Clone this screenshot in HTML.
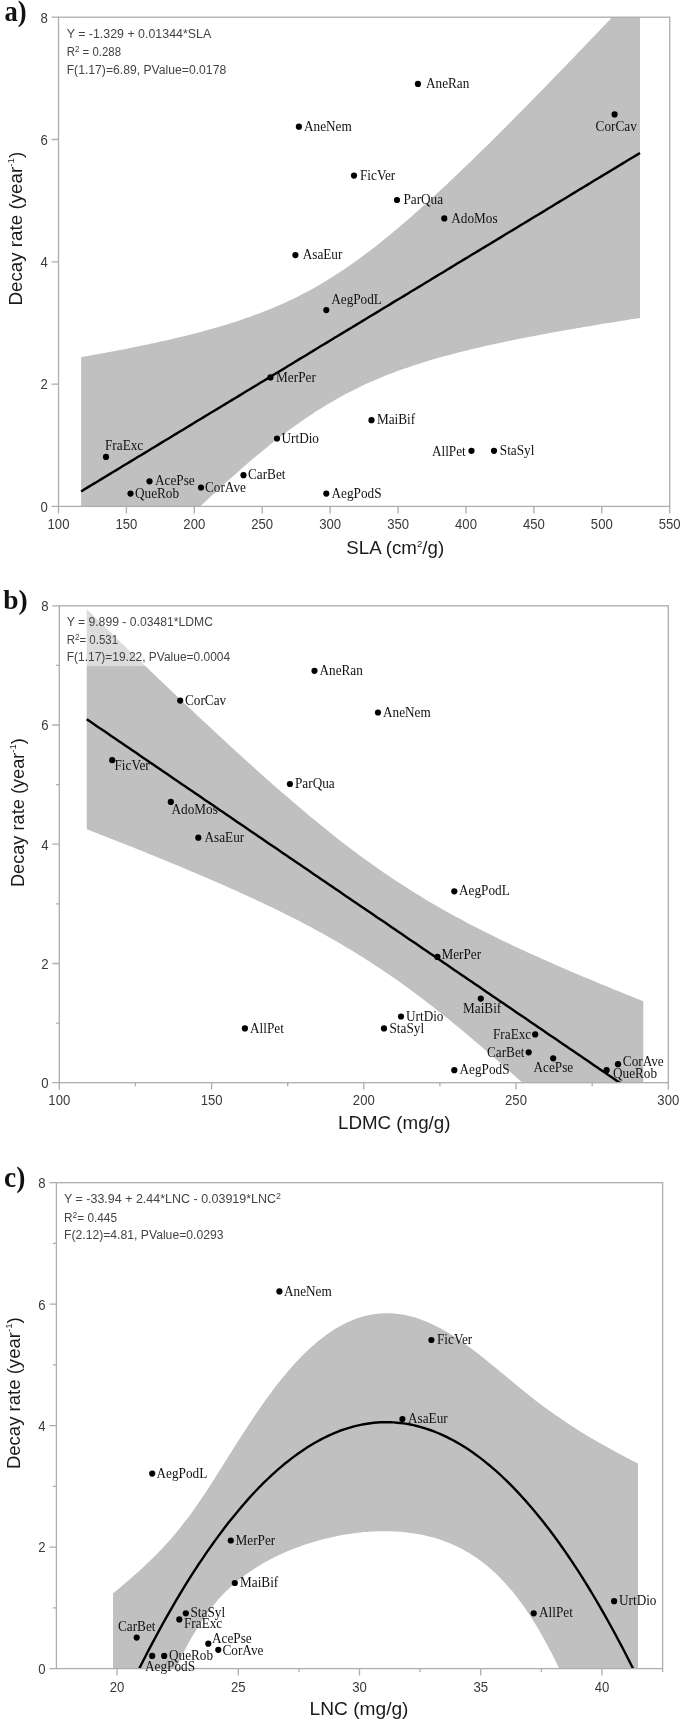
<!DOCTYPE html>
<html><head><meta charset="utf-8"><title>Decay rate vs leaf traits</title>
<style>html,body{margin:0;padding:0;background:#fff}svg{display:block;will-change:transform}text{white-space:pre}</style>
</head><body>
<svg width="685" height="1723" viewBox="0 0 685 1723">
<rect width="685" height="1723" fill="#fff"/>
<clipPath id="clip1"><rect x="58.5" y="17.2" width="611.20" height="489.20"/></clipPath>
<g clip-path="url(#clip1)">
<polygon points="81.1,357.1 84.6,356.5 88.1,355.9 91.6,355.2 95.2,354.6 98.7,354.0 102.2,353.3 105.7,352.7 109.2,352.0 112.7,351.4 116.3,350.7 119.8,350.0 123.3,349.4 126.8,348.7 130.3,348.0 133.8,347.3 137.3,346.6 140.9,345.8 144.4,345.1 147.9,344.4 151.4,343.6 154.9,342.9 158.4,342.1 161.9,341.3 165.5,340.6 169.0,339.8 172.5,339.0 176.0,338.1 179.5,337.3 183.0,336.5 186.6,335.6 190.1,334.7 193.6,333.8 197.1,332.9 200.6,332.0 204.1,331.1 207.6,330.1 211.2,329.1 214.7,328.1 218.2,327.1 221.7,326.1 225.2,325.0 228.7,323.9 232.2,322.8 235.8,321.7 239.3,320.5 242.8,319.3 246.3,318.1 249.8,316.9 253.3,315.6 256.9,314.3 260.4,313.0 263.9,311.6 267.4,310.2 270.9,308.8 274.4,307.3 277.9,305.8 281.5,304.3 285.0,302.7 288.5,301.0 292.0,299.4 295.5,297.7 299.0,295.9 302.6,294.1 306.1,292.3 309.6,290.4 313.1,288.4 316.6,286.4 320.1,284.4 323.6,282.3 327.2,280.2 330.7,278.0 334.2,275.8 337.7,273.6 341.2,271.3 344.7,268.9 348.2,266.5 351.8,264.0 355.3,261.6 358.8,259.0 362.3,256.4 365.8,253.8 369.3,251.2 372.9,248.5 376.4,245.7 379.9,242.9 383.4,240.1 386.9,237.3 390.4,234.4 393.9,231.5 397.5,228.5 401.0,225.6 404.5,222.5 408.0,219.5 411.5,216.4 415.0,213.3 418.5,210.2 422.1,207.1 425.6,203.9 429.1,200.7 432.6,197.5 436.1,194.3 439.6,191.0 443.2,187.7 446.7,184.4 450.2,181.1 453.7,177.8 457.2,174.5 460.7,171.1 464.2,167.7 467.8,164.3 471.3,160.9 474.8,157.5 478.3,154.1 481.8,150.6 485.3,147.2 488.9,143.7 492.4,140.2 495.9,136.7 499.4,133.2 502.9,129.7 506.4,126.2 509.9,122.7 513.5,119.1 517.0,115.6 520.5,112.0 524.0,108.5 527.5,104.9 531.0,101.3 534.5,97.7 538.1,94.1 541.6,90.6 545.1,86.9 548.6,83.3 552.1,79.7 555.6,76.1 559.2,72.5 562.7,68.8 566.2,65.2 569.7,61.6 573.2,57.9 576.7,54.3 580.2,50.6 583.8,47.0 587.3,43.3 590.8,39.6 594.3,36.0 597.8,32.3 601.3,28.6 604.8,24.9 608.4,21.2 611.9,17.6 615.4,13.9 618.9,10.2 622.4,6.5 625.9,2.8 629.5,-0.9 633.0,-4.6 636.5,-8.3 640.0,-12.1 640.0,318.0 636.5,318.5 633.0,319.1 629.5,319.6 625.9,320.2 622.4,320.7 618.9,321.3 615.4,321.9 611.9,322.4 608.4,323.0 604.8,323.6 601.3,324.1 597.8,324.7 594.3,325.3 590.8,325.9 587.3,326.5 583.8,327.1 580.2,327.7 576.7,328.3 573.2,328.9 569.7,329.5 566.2,330.1 562.7,330.7 559.2,331.3 555.6,332.0 552.1,332.6 548.6,333.3 545.1,333.9 541.6,334.6 538.1,335.2 534.5,335.9 531.0,336.6 527.5,337.2 524.0,337.9 520.5,338.6 517.0,339.3 513.5,340.0 509.9,340.8 506.4,341.5 502.9,342.2 499.4,343.0 495.9,343.7 492.4,344.5 488.9,345.3 485.3,346.1 481.8,346.9 478.3,347.7 474.8,348.5 471.3,349.3 467.8,350.2 464.2,351.0 460.7,351.9 457.2,352.8 453.7,353.7 450.2,354.7 446.7,355.6 443.2,356.6 439.6,357.5 436.1,358.5 432.6,359.6 429.1,360.6 425.6,361.7 422.1,362.8 418.5,363.9 415.0,365.0 411.5,366.2 408.0,367.4 404.5,368.6 401.0,369.8 397.5,371.1 393.9,372.4 390.4,373.8 386.9,375.1 383.4,376.5 379.9,378.0 376.4,379.5 372.9,381.0 369.3,382.5 365.8,384.1 362.3,385.8 358.8,387.4 355.3,389.2 351.8,390.9 348.2,392.7 344.7,394.6 341.2,396.5 337.7,398.4 334.2,400.4 330.7,402.5 327.2,404.6 323.6,406.7 320.1,408.9 316.6,411.1 313.1,413.4 309.6,415.7 306.1,418.1 302.6,420.5 299.0,422.9 295.5,425.4 292.0,428.0 288.5,430.6 285.0,433.2 281.5,435.9 277.9,438.6 274.4,441.3 270.9,444.1 267.4,446.9 263.9,449.8 260.4,452.7 256.9,455.6 253.3,458.5 249.8,461.5 246.3,464.6 242.8,467.6 239.3,470.7 235.8,473.8 232.2,476.9 228.7,480.0 225.2,483.2 221.7,486.4 218.2,489.6 214.7,492.9 211.2,496.1 207.6,499.4 204.1,502.7 200.6,506.0 197.1,509.4 193.6,512.7 190.1,516.1 186.6,519.5 183.0,522.9 179.5,526.3 176.0,529.7 172.5,533.1 169.0,536.6 165.5,540.0 161.9,543.5 158.4,547.0 154.9,550.5 151.4,554.0 147.9,557.5 144.4,561.0 140.9,564.5 137.3,568.1 133.8,571.6 130.3,575.2 126.8,578.7 123.3,582.3 119.8,585.9 116.3,589.5 112.7,593.1 109.2,596.7 105.7,600.3 102.2,603.9 98.7,607.5 95.2,611.1 91.6,614.7 88.1,618.4 84.6,622.0 81.1,625.7" fill="#c0c0c0"/>
<polyline points="81.1,491.4 84.6,489.2 88.1,487.1 91.6,485.0 95.2,482.9 98.7,480.7 102.2,478.6 105.7,476.5 109.2,474.4 112.7,472.2 116.3,470.1 119.8,468.0 123.3,465.8 126.8,463.7 130.3,461.6 133.8,459.5 137.3,457.3 140.9,455.2 144.4,453.1 147.9,450.9 151.4,448.8 154.9,446.7 158.4,444.6 161.9,442.4 165.5,440.3 169.0,438.2 172.5,436.0 176.0,433.9 179.5,431.8 183.0,429.7 186.6,427.5 190.1,425.4 193.6,423.3 197.1,421.1 200.6,419.0 204.1,416.9 207.6,414.8 211.2,412.6 214.7,410.5 218.2,408.4 221.7,406.2 225.2,404.1 228.7,402.0 232.2,399.9 235.8,397.7 239.3,395.6 242.8,393.5 246.3,391.3 249.8,389.2 253.3,387.1 256.9,385.0 260.4,382.8 263.9,380.7 267.4,378.6 270.9,376.4 274.4,374.3 277.9,372.2 281.5,370.1 285.0,367.9 288.5,365.8 292.0,363.7 295.5,361.5 299.0,359.4 302.6,357.3 306.1,355.2 309.6,353.0 313.1,350.9 316.6,348.8 320.1,346.6 323.6,344.5 327.2,342.4 330.7,340.3 334.2,338.1 337.7,336.0 341.2,333.9 344.7,331.7 348.2,329.6 351.8,327.5 355.3,325.4 358.8,323.2 362.3,321.1 365.8,319.0 369.3,316.8 372.9,314.7 376.4,312.6 379.9,310.5 383.4,308.3 386.9,306.2 390.4,304.1 393.9,301.9 397.5,299.8 401.0,297.7 404.5,295.6 408.0,293.4 411.5,291.3 415.0,289.2 418.5,287.1 422.1,284.9 425.6,282.8 429.1,280.7 432.6,278.5 436.1,276.4 439.6,274.3 443.2,272.2 446.7,270.0 450.2,267.9 453.7,265.8 457.2,263.6 460.7,261.5 464.2,259.4 467.8,257.3 471.3,255.1 474.8,253.0 478.3,250.9 481.8,248.7 485.3,246.6 488.9,244.5 492.4,242.4 495.9,240.2 499.4,238.1 502.9,236.0 506.4,233.8 509.9,231.7 513.5,229.6 517.0,227.5 520.5,225.3 524.0,223.2 527.5,221.1 531.0,218.9 534.5,216.8 538.1,214.7 541.6,212.6 545.1,210.4 548.6,208.3 552.1,206.2 555.6,204.0 559.2,201.9 562.7,199.8 566.2,197.7 569.7,195.5 573.2,193.4 576.7,191.3 580.2,189.1 583.8,187.0 587.3,184.9 590.8,182.8 594.3,180.6 597.8,178.5 601.3,176.4 604.8,174.2 608.4,172.1 611.9,170.0 615.4,167.9 618.9,165.7 622.4,163.6 625.9,161.5 629.5,159.3 633.0,157.2 636.5,155.1 640.0,153.0" fill="none" stroke="#000" stroke-width="2.4"/>
</g>
<rect x="58.5" y="17.2" width="611.20" height="489.20" fill="none" stroke="#adadad" stroke-width="1.3"/>
<path d="M51.5,506.4H58.5M51.5,384.1H58.5M51.5,261.8H58.5M51.5,139.5H58.5M51.5,17.2H58.5M58.5,506.4V513.4M126.4,506.4V513.4M194.3,506.4V513.4M262.2,506.4V513.4M330.1,506.4V513.4M398.1,506.4V513.4M466.0,506.4V513.4M533.9,506.4V513.4M601.8,506.4V513.4M669.7,506.4V513.4" stroke="#adadad" stroke-width="1.3" fill="none"/>
<g font-family='"Liberation Sans", sans-serif' font-size="14.6" fill="#3a3a3a">
<text transform="translate(47.7,511.7) scale(0.9,1)" text-anchor="end">0</text>
<text transform="translate(47.7,389.4) scale(0.9,1)" text-anchor="end">2</text>
<text transform="translate(47.7,267.1) scale(0.9,1)" text-anchor="end">4</text>
<text transform="translate(47.7,144.8) scale(0.9,1)" text-anchor="end">6</text>
<text transform="translate(47.7,22.5) scale(0.9,1)" text-anchor="end">8</text>
<text transform="translate(58.5,529.4) scale(0.9,1)" text-anchor="middle">100</text>
<text transform="translate(126.4,529.4) scale(0.9,1)" text-anchor="middle">150</text>
<text transform="translate(194.3,529.4) scale(0.9,1)" text-anchor="middle">200</text>
<text transform="translate(262.2,529.4) scale(0.9,1)" text-anchor="middle">250</text>
<text transform="translate(330.1,529.4) scale(0.9,1)" text-anchor="middle">300</text>
<text transform="translate(398.1,529.4) scale(0.9,1)" text-anchor="middle">350</text>
<text transform="translate(466.0,529.4) scale(0.9,1)" text-anchor="middle">400</text>
<text transform="translate(533.9,529.4) scale(0.9,1)" text-anchor="middle">450</text>
<text transform="translate(601.8,529.4) scale(0.9,1)" text-anchor="middle">500</text>
<text transform="translate(669.7,529.4) scale(0.9,1)" text-anchor="middle">550</text>
</g>
<g font-family='"Liberation Sans", sans-serif' font-size="12" fill="#444">
<text x="66.7" y="38.2" textLength="144.5" lengthAdjust="spacingAndGlyphs">Y = -1.329 + 0.01344*SLA</text>
<text x="66.7" y="56.3" textLength="54.3" lengthAdjust="spacingAndGlyphs">R<tspan font-size="8.5" dy="-4">2</tspan><tspan dy="4"> = 0.288</tspan></text>
<text x="66.7" y="74.2" textLength="159.5" lengthAdjust="spacingAndGlyphs">F(1.17)=6.89, PValue=0.0178</text>
</g>
<text x="346.3" y="553.9" font-family='"Liberation Sans", sans-serif' font-size="18.3" fill="#1a1a1a" textLength="97.9" lengthAdjust="spacingAndGlyphs">SLA (cm<tspan font-size="9.5" dy="-7">2</tspan><tspan dy="7">/g)</tspan></text>
<text transform="translate(21.6,305.6) rotate(-90)" font-family='"Liberation Sans", sans-serif' font-size="18.3" fill="#1a1a1a" textLength="153.8" lengthAdjust="spacingAndGlyphs">Decay rate (year<tspan font-size="9.5" dy="-8">-1</tspan><tspan dy="8">)</tspan></text>
<text transform="translate(4.5,21.0) scale(0.9,1)" font-family='"Liberation Serif", serif' font-weight="bold" font-size="29.5" fill="#111">a)</text>
<g fill="#000">
<circle cx="417.9" cy="83.9" r="3.1"/>
<circle cx="614.6" cy="114.4" r="3.1"/>
<circle cx="298.9" cy="126.7" r="3.1"/>
<circle cx="354.0" cy="175.6" r="3.1"/>
<circle cx="397.0" cy="200.0" r="3.1"/>
<circle cx="444.3" cy="218.4" r="3.1"/>
<circle cx="295.4" cy="255.1" r="3.1"/>
<circle cx="326.3" cy="310.1" r="3.1"/>
<circle cx="270.5" cy="377.4" r="3.1"/>
<circle cx="106.0" cy="456.9" r="3.1"/>
<circle cx="277.0" cy="438.5" r="3.1"/>
<circle cx="149.5" cy="481.3" r="3.1"/>
<circle cx="130.5" cy="493.6" r="3.1"/>
<circle cx="201.0" cy="487.5" r="3.1"/>
<circle cx="243.5" cy="475.2" r="3.1"/>
<circle cx="326.3" cy="493.6" r="3.1"/>
<circle cx="371.5" cy="420.2" r="3.1"/>
<circle cx="471.5" cy="450.8" r="3.1"/>
<circle cx="494.0" cy="450.8" r="3.1"/>
</g>
<g font-family='"Liberation Serif", serif' font-size="14.8" fill="#111">
<text transform="translate(426.0,88.0) scale(0.895,1)">AneRan</text>
<text transform="translate(595.6,131.4) scale(0.895,1)">CorCav</text>
<text transform="translate(304.0,130.8) scale(0.895,1)">AneNem</text>
<text transform="translate(360.0,179.7) scale(0.895,1)">FicVer</text>
<text transform="translate(403.4,204.1) scale(0.895,1)">ParQua</text>
<text transform="translate(451.3,222.5) scale(0.895,1)">AdoMos</text>
<text transform="translate(302.7,259.2) scale(0.895,1)">AsaEur</text>
<text transform="translate(331.2,303.8) scale(0.895,1)">AegPodL</text>
<text transform="translate(276.1,381.5) scale(0.895,1)">MerPer</text>
<text transform="translate(105.0,450.4) scale(0.895,1)">FraExc</text>
<text transform="translate(281.5,442.6) scale(0.895,1)">UrtDio</text>
<text transform="translate(155.0,485.4) scale(0.895,1)">AcePse</text>
<text transform="translate(135.0,497.7) scale(0.895,1)">QueRob</text>
<text transform="translate(205.0,491.6) scale(0.895,1)">CorAve</text>
<text transform="translate(248.0,479.3) scale(0.895,1)">CarBet</text>
<text transform="translate(331.5,497.7) scale(0.895,1)">AegPodS</text>
<text transform="translate(376.9,424.3) scale(0.895,1)">MaiBif</text>
<text transform="translate(431.9,456.0) scale(0.895,1)">AllPet</text>
<text transform="translate(499.8,454.9) scale(0.895,1)">StaSyl</text>
</g>
<clipPath id="clip2"><rect x="59.3" y="605.8" width="609.00" height="476.90"/></clipPath>
<g clip-path="url(#clip2)">
<polygon points="86.7,609.2 90.2,612.6 93.7,616.0 97.2,619.4 100.7,622.8 104.2,626.2 107.7,629.6 111.2,633.0 114.7,636.4 118.2,639.8 121.7,643.2 125.2,646.6 128.7,650.0 132.2,653.3 135.7,656.7 139.2,660.1 142.7,663.5 146.2,666.8 149.7,670.2 153.2,673.5 156.7,676.9 160.2,680.2 163.7,683.6 167.2,686.9 170.7,690.3 174.2,693.6 177.7,696.9 181.2,700.2 184.7,703.5 188.2,706.8 191.7,710.1 195.2,713.4 198.7,716.7 202.2,720.0 205.7,723.3 209.2,726.6 212.7,729.8 216.2,733.1 219.7,736.3 223.2,739.6 226.7,742.8 230.2,746.0 233.7,749.2 237.2,752.4 240.7,755.6 244.2,758.8 247.7,762.0 251.2,765.1 254.7,768.3 258.2,771.4 261.7,774.6 265.2,777.7 268.7,780.8 272.2,783.9 275.7,786.9 279.2,790.0 282.7,793.0 286.2,796.1 289.7,799.1 293.2,802.1 296.7,805.1 300.2,808.1 303.7,811.0 307.2,813.9 310.7,816.9 314.2,819.8 317.7,822.6 321.2,825.5 324.7,828.3 328.2,831.1 331.7,833.9 335.2,836.7 338.7,839.4 342.2,842.2 345.7,844.9 349.2,847.5 352.7,850.2 356.2,852.8 359.7,855.4 363.2,858.0 366.8,860.5 370.3,863.1 373.8,865.6 377.3,868.0 380.8,870.5 384.3,872.9 387.8,875.3 391.3,877.7 394.8,880.0 398.3,882.3 401.8,884.6 405.3,886.8 408.8,889.1 412.3,891.3 415.8,893.5 419.3,895.6 422.8,897.7 426.3,899.9 429.8,901.9 433.3,904.0 436.8,906.0 440.3,908.0 443.8,910.0 447.3,912.0 450.8,913.9 454.3,915.9 457.8,917.8 461.3,919.6 464.8,921.5 468.3,923.4 471.8,925.2 475.3,927.0 478.8,928.8 482.3,930.6 485.8,932.3 489.3,934.1 492.8,935.8 496.3,937.5 499.8,939.2 503.3,940.9 506.8,942.6 510.3,944.2 513.8,945.9 517.3,947.5 520.8,949.2 524.3,950.8 527.8,952.4 531.3,954.0 534.8,955.6 538.3,957.1 541.8,958.7 545.3,960.3 548.8,961.8 552.3,963.3 555.8,964.9 559.3,966.4 562.8,967.9 566.3,969.4 569.8,970.9 573.3,972.4 576.8,973.9 580.3,975.4 583.8,976.9 587.3,978.3 590.8,979.8 594.3,981.3 597.8,982.7 601.3,984.2 604.8,985.6 608.3,987.0 611.8,988.5 615.3,989.9 618.8,991.3 622.3,992.7 625.8,994.2 629.3,995.6 632.8,997.0 636.3,998.4 639.8,999.8 643.3,1001.2 643.3,1196.5 639.8,1193.1 636.3,1189.7 632.8,1186.3 629.3,1183.0 625.8,1179.6 622.3,1176.2 618.8,1172.9 615.3,1169.5 611.8,1166.2 608.3,1162.8 604.8,1159.5 601.3,1156.2 597.8,1152.8 594.3,1149.5 590.8,1146.2 587.3,1142.9 583.8,1139.6 580.3,1136.3 576.8,1133.0 573.3,1129.7 569.8,1126.4 566.3,1123.2 562.8,1119.9 559.3,1116.6 555.8,1113.4 552.3,1110.1 548.8,1106.9 545.3,1103.7 541.8,1100.5 538.3,1097.2 534.8,1094.0 531.3,1090.9 527.8,1087.7 524.3,1084.5 520.8,1081.3 517.3,1078.2 513.8,1075.1 510.3,1071.9 506.8,1068.8 503.3,1065.7 499.8,1062.6 496.3,1059.6 492.8,1056.5 489.3,1053.5 485.8,1050.4 482.3,1047.4 478.8,1044.4 475.3,1041.4 471.8,1038.5 468.3,1035.5 464.8,1032.6 461.3,1029.7 457.8,1026.8 454.3,1023.9 450.8,1021.1 447.3,1018.2 443.8,1015.4 440.3,1012.6 436.8,1009.9 433.3,1007.1 429.8,1004.4 426.3,1001.7 422.8,999.1 419.3,996.4 415.8,993.8 412.3,991.2 408.8,988.6 405.3,986.1 401.8,983.6 398.3,981.1 394.8,978.6 391.3,976.2 387.8,973.8 384.3,971.4 380.8,969.0 377.3,966.7 373.8,964.4 370.3,962.1 366.8,959.9 363.2,957.6 359.7,955.4 356.2,953.3 352.7,951.1 349.2,949.0 345.7,946.9 342.2,944.8 338.7,942.8 335.2,940.7 331.7,938.7 328.2,936.7 324.7,934.8 321.2,932.8 317.7,930.9 314.2,929.0 310.7,927.1 307.2,925.3 303.7,923.4 300.2,921.6 296.7,919.8 293.2,918.0 289.7,916.3 286.2,914.5 282.7,912.8 279.2,911.0 275.7,909.3 272.2,907.6 268.7,905.9 265.2,904.3 261.7,902.6 258.2,901.0 254.7,899.3 251.2,897.7 247.7,896.1 244.2,894.5 240.7,892.9 237.2,891.3 233.7,889.7 230.2,888.2 226.7,886.6 223.2,885.1 219.7,883.5 216.2,882.0 212.7,880.5 209.2,879.0 205.7,877.5 202.2,876.0 198.7,874.5 195.2,873.0 191.7,871.5 188.2,870.0 184.7,868.6 181.2,867.1 177.7,865.6 174.2,864.2 170.7,862.7 167.2,861.3 163.7,859.9 160.2,858.4 156.7,857.0 153.2,855.6 149.7,854.2 146.2,852.7 142.7,851.3 139.2,849.9 135.7,848.5 132.2,847.1 128.7,845.7 125.2,844.3 121.7,842.9 118.2,841.6 114.7,840.2 111.2,838.8 107.7,837.4 104.2,836.0 100.7,834.7 97.2,833.3 93.7,831.9 90.2,830.6 86.7,829.2" fill="#c0c0c0"/>
<rect x="59.3" y="605.8" width="185" height="60.4" fill="#fff" fill-opacity="0.45"/>
<polyline points="86.7,719.2 90.2,721.6 93.7,724.0 97.2,726.4 100.7,728.7 104.2,731.1 107.7,733.5 111.2,735.9 114.7,738.3 118.2,740.7 121.7,743.1 125.2,745.5 128.7,747.8 132.2,750.2 135.7,752.6 139.2,755.0 142.7,757.4 146.2,759.8 149.7,762.2 153.2,764.6 156.7,766.9 160.2,769.3 163.7,771.7 167.2,774.1 170.7,776.5 174.2,778.9 177.7,781.3 181.2,783.7 184.7,786.0 188.2,788.4 191.7,790.8 195.2,793.2 198.7,795.6 202.2,798.0 205.7,800.4 209.2,802.8 212.7,805.1 216.2,807.5 219.7,809.9 223.2,812.3 226.7,814.7 230.2,817.1 233.7,819.5 237.2,821.9 240.7,824.3 244.2,826.6 247.7,829.0 251.2,831.4 254.7,833.8 258.2,836.2 261.7,838.6 265.2,841.0 268.7,843.4 272.2,845.7 275.7,848.1 279.2,850.5 282.7,852.9 286.2,855.3 289.7,857.7 293.2,860.1 296.7,862.5 300.2,864.8 303.7,867.2 307.2,869.6 310.7,872.0 314.2,874.4 317.7,876.8 321.2,879.2 324.7,881.6 328.2,883.9 331.7,886.3 335.2,888.7 338.7,891.1 342.2,893.5 345.7,895.9 349.2,898.3 352.7,900.7 356.2,903.0 359.7,905.4 363.2,907.8 366.8,910.2 370.3,912.6 373.8,915.0 377.3,917.4 380.8,919.8 384.3,922.1 387.8,924.5 391.3,926.9 394.8,929.3 398.3,931.7 401.8,934.1 405.3,936.5 408.8,938.9 412.3,941.2 415.8,943.6 419.3,946.0 422.8,948.4 426.3,950.8 429.8,953.2 433.3,955.6 436.8,958.0 440.3,960.3 443.8,962.7 447.3,965.1 450.8,967.5 454.3,969.9 457.8,972.3 461.3,974.7 464.8,977.1 468.3,979.4 471.8,981.8 475.3,984.2 478.8,986.6 482.3,989.0 485.8,991.4 489.3,993.8 492.8,996.2 496.3,998.5 499.8,1000.9 503.3,1003.3 506.8,1005.7 510.3,1008.1 513.8,1010.5 517.3,1012.9 520.8,1015.3 524.3,1017.6 527.8,1020.0 531.3,1022.4 534.8,1024.8 538.3,1027.2 541.8,1029.6 545.3,1032.0 548.8,1034.4 552.3,1036.7 555.8,1039.1 559.3,1041.5 562.8,1043.9 566.3,1046.3 569.8,1048.7 573.3,1051.1 576.8,1053.5 580.3,1055.8 583.8,1058.2 587.3,1060.6 590.8,1063.0 594.3,1065.4 597.8,1067.8 601.3,1070.2 604.8,1072.6 608.3,1074.9 611.8,1077.3 615.3,1079.7 618.8,1082.1 622.3,1084.5 625.8,1086.9 629.3,1089.3 632.8,1091.7 636.3,1094.0 639.8,1096.4 643.3,1098.8" fill="none" stroke="#000" stroke-width="2.4"/>
</g>
<rect x="59.3" y="605.8" width="609.00" height="476.90" fill="none" stroke="#adadad" stroke-width="1.3"/>
<path d="M52.3,1082.7H59.3M52.3,963.5H59.3M52.3,844.2H59.3M52.3,725.0H59.3M52.3,605.8H59.3M55.8,1023.1H59.3M55.8,903.9H59.3M55.8,784.6H59.3M55.8,665.4H59.3M59.3,1082.7V1089.7M211.6,1082.7V1089.7M363.8,1082.7V1089.7M516.0,1082.7V1089.7M668.3,1082.7V1089.7M135.4,1082.7V1086.2M287.7,1082.7V1086.2M439.9,1082.7V1086.2M592.2,1082.7V1086.2" stroke="#adadad" stroke-width="1.3" fill="none"/>
<g font-family='"Liberation Sans", sans-serif' font-size="14.6" fill="#3a3a3a">
<text transform="translate(48.5,1088.0) scale(0.9,1)" text-anchor="end">0</text>
<text transform="translate(48.5,968.8) scale(0.9,1)" text-anchor="end">2</text>
<text transform="translate(48.5,849.5) scale(0.9,1)" text-anchor="end">4</text>
<text transform="translate(48.5,730.3) scale(0.9,1)" text-anchor="end">6</text>
<text transform="translate(48.5,611.1) scale(0.9,1)" text-anchor="end">8</text>
<text transform="translate(59.3,1104.7) scale(0.9,1)" text-anchor="middle">100</text>
<text transform="translate(211.6,1104.7) scale(0.9,1)" text-anchor="middle">150</text>
<text transform="translate(363.8,1104.7) scale(0.9,1)" text-anchor="middle">200</text>
<text transform="translate(516.0,1104.7) scale(0.9,1)" text-anchor="middle">250</text>
<text transform="translate(668.3,1104.7) scale(0.9,1)" text-anchor="middle">300</text>
</g>
<g font-family='"Liberation Sans", sans-serif' font-size="12" fill="#444">
<text x="66.7" y="625.9" textLength="146.3" lengthAdjust="spacingAndGlyphs">Y = 9.899 - 0.03481*LDMC</text>
<text x="66.7" y="643.5" textLength="51.3" lengthAdjust="spacingAndGlyphs">R<tspan font-size="8.5" dy="-4">2</tspan><tspan dy="4">= 0.531</tspan></text>
<text x="66.7" y="661.0" textLength="163.5" lengthAdjust="spacingAndGlyphs">F(1.17)=19.22, PValue=0.0004</text>
</g>
<text x="338.0" y="1128.9" font-family='"Liberation Sans", sans-serif' font-size="18.3" fill="#1a1a1a" textLength="112.5" lengthAdjust="spacingAndGlyphs">LDMC (mg/g)</text>
<text transform="translate(23.6,887.1) rotate(-90)" font-family='"Liberation Sans", sans-serif' font-size="18.3" fill="#1a1a1a" textLength="148.9" lengthAdjust="spacingAndGlyphs">Decay rate (year<tspan font-size="9.5" dy="-8">-1</tspan><tspan dy="8">)</tspan></text>
<text transform="translate(3.3,609.3) scale(1.0,1)" font-family='"Liberation Serif", serif' font-weight="bold" font-size="27.5" fill="#111">b)</text>
<g fill="#000">
<circle cx="180.2" cy="700.6" r="3.1"/>
<circle cx="112.2" cy="760.2" r="3.1"/>
<circle cx="170.8" cy="801.9" r="3.1"/>
<circle cx="198.3" cy="837.7" r="3.1"/>
<circle cx="289.9" cy="784.0" r="3.1"/>
<circle cx="314.5" cy="670.8" r="3.1"/>
<circle cx="378.0" cy="712.5" r="3.1"/>
<circle cx="244.9" cy="1028.4" r="3.1"/>
<circle cx="454.3" cy="891.3" r="3.1"/>
<circle cx="437.4" cy="956.9" r="3.1"/>
<circle cx="480.8" cy="998.6" r="3.1"/>
<circle cx="401.0" cy="1016.5" r="3.1"/>
<circle cx="384.0" cy="1028.4" r="3.1"/>
<circle cx="535.2" cy="1034.4" r="3.1"/>
<circle cx="528.7" cy="1052.3" r="3.1"/>
<circle cx="553.2" cy="1058.3" r="3.1"/>
<circle cx="454.3" cy="1070.2" r="3.1"/>
<circle cx="618.0" cy="1064.2" r="3.1"/>
<circle cx="606.6" cy="1070.2" r="3.1"/>
</g>
<g font-family='"Liberation Serif", serif' font-size="14.8" fill="#111">
<text transform="translate(185.0,704.7) scale(0.895,1)">CorCav</text>
<text transform="translate(114.5,769.9) scale(0.895,1)">FicVer</text>
<text transform="translate(171.5,813.9) scale(0.895,1)">AdoMos</text>
<text transform="translate(204.5,841.8) scale(0.895,1)">AsaEur</text>
<text transform="translate(295.0,788.1) scale(0.895,1)">ParQua</text>
<text transform="translate(319.5,674.9) scale(0.895,1)">AneRan</text>
<text transform="translate(383.0,716.6) scale(0.895,1)">AneNem</text>
<text transform="translate(250.0,1032.5) scale(0.895,1)">AllPet</text>
<text transform="translate(459.0,895.4) scale(0.895,1)">AegPodL</text>
<text transform="translate(441.4,959.4) scale(0.895,1)">MerPer</text>
<text transform="translate(463.0,1013.4) scale(0.895,1)">MaiBif</text>
<text transform="translate(406.0,1020.6) scale(0.895,1)">UrtDio</text>
<text transform="translate(389.5,1032.5) scale(0.895,1)">StaSyl</text>
<text transform="translate(493.0,1039.4) scale(0.895,1)">FraExc</text>
<text transform="translate(487.0,1057.4) scale(0.895,1)">CarBet</text>
<text transform="translate(533.5,1072.4) scale(0.895,1)">AcePse</text>
<text transform="translate(459.5,1074.3) scale(0.895,1)">AegPodS</text>
<text transform="translate(622.8,1066.4) scale(0.895,1)">CorAve</text>
<text transform="translate(613.0,1078.4) scale(0.895,1)">QueRob</text>
</g>
<clipPath id="clip3"><rect x="56.4" y="1182.7" width="606.20" height="485.90"/></clipPath>
<g clip-path="url(#clip3)">
<polygon points="113.0,1593.4 116.3,1590.7 119.6,1587.9 122.9,1585.1 126.2,1582.3 129.5,1579.5 132.8,1576.6 136.1,1573.7 139.4,1570.7 142.7,1567.7 146.0,1564.6 149.3,1561.5 152.6,1558.3 155.9,1555.0 159.2,1551.6 162.5,1548.2 165.8,1544.6 169.1,1541.0 172.4,1537.2 175.7,1533.3 179.0,1529.3 182.3,1525.1 185.6,1520.8 188.9,1516.4 192.2,1511.9 195.5,1507.3 198.8,1502.5 202.2,1497.6 205.5,1492.7 208.8,1487.6 212.1,1482.5 215.4,1477.3 218.7,1472.1 222.0,1466.8 225.3,1461.6 228.6,1456.3 231.9,1451.0 235.2,1445.8 238.5,1440.6 241.8,1435.4 245.1,1430.3 248.4,1425.2 251.7,1420.2 255.0,1415.3 258.3,1410.4 261.6,1405.7 264.9,1401.0 268.2,1396.4 271.5,1392.0 274.8,1387.6 278.1,1383.3 281.4,1379.2 284.7,1375.2 288.0,1371.3 291.3,1367.5 294.6,1363.8 297.9,1360.2 301.2,1356.8 304.5,1353.5 307.8,1350.3 311.1,1347.3 314.4,1344.4 317.7,1341.6 321.0,1338.9 324.3,1336.4 327.6,1334.0 330.9,1331.7 334.2,1329.6 337.5,1327.6 340.8,1325.7 344.1,1324.0 347.4,1322.3 350.7,1320.9 354.0,1319.5 357.3,1318.3 360.6,1317.2 363.9,1316.3 367.2,1315.5 370.5,1314.8 373.8,1314.2 377.2,1313.8 380.5,1313.5 383.8,1313.3 387.1,1313.2 390.4,1313.3 393.7,1313.5 397.0,1313.8 400.3,1314.2 403.6,1314.8 406.9,1315.4 410.2,1316.2 413.5,1317.1 416.8,1318.1 420.1,1319.2 423.4,1320.5 426.7,1321.8 430.0,1323.2 433.3,1324.8 436.6,1326.4 439.9,1328.1 443.2,1329.9 446.5,1331.8 449.8,1333.8 453.1,1335.9 456.4,1338.0 459.7,1340.3 463.0,1342.5 466.3,1344.9 469.6,1347.3 472.9,1349.8 476.2,1352.3 479.5,1354.8 482.8,1357.4 486.1,1360.1 489.4,1362.7 492.7,1365.4 496.0,1368.1 499.3,1370.9 502.6,1373.6 505.9,1376.3 509.2,1379.1 512.5,1381.8 515.8,1384.5 519.1,1387.2 522.4,1389.9 525.7,1392.5 529.0,1395.2 532.3,1397.8 535.6,1400.4 538.9,1402.9 542.2,1405.4 545.5,1407.9 548.8,1410.3 552.2,1412.7 555.5,1415.0 558.8,1417.3 562.1,1419.6 565.4,1421.8 568.7,1424.0 572.0,1426.2 575.3,1428.3 578.6,1430.4 581.9,1432.4 585.2,1434.5 588.5,1436.5 591.8,1438.4 595.1,1440.3 598.4,1442.2 601.7,1444.1 605.0,1446.0 608.3,1447.8 611.6,1449.6 614.9,1451.4 618.2,1453.2 621.5,1454.9 624.8,1456.7 628.1,1458.4 631.4,1460.2 634.7,1461.9 638.0,1463.6 638.0,1893.3 634.7,1881.6 631.4,1870.2 628.1,1858.9 624.8,1847.8 621.5,1836.9 618.2,1826.2 614.9,1815.7 611.6,1805.4 608.3,1795.2 605.0,1785.3 601.7,1775.6 598.4,1766.0 595.1,1756.7 591.8,1747.6 588.5,1738.6 585.2,1729.9 581.9,1721.4 578.6,1713.1 575.3,1705.0 572.0,1697.1 568.7,1689.5 565.4,1682.0 562.1,1674.8 558.8,1667.7 555.5,1660.9 552.2,1654.3 548.8,1647.9 545.5,1641.8 542.2,1635.8 538.9,1630.1 535.6,1624.6 532.3,1619.3 529.0,1614.1 525.7,1609.2 522.4,1604.5 519.1,1600.0 515.8,1595.7 512.5,1591.6 509.2,1587.7 505.9,1583.9 502.6,1580.4 499.3,1577.0 496.0,1573.8 492.7,1570.7 489.4,1567.8 486.1,1565.0 482.8,1562.4 479.5,1559.9 476.2,1557.6 472.9,1555.4 469.6,1553.3 466.3,1551.4 463.0,1549.6 459.7,1547.8 456.4,1546.2 453.1,1544.7 449.8,1543.3 446.5,1542.0 443.2,1540.7 439.9,1539.6 436.6,1538.6 433.3,1537.6 430.0,1536.7 426.7,1535.9 423.4,1535.1 420.1,1534.5 416.8,1533.9 413.5,1533.3 410.2,1532.9 406.9,1532.4 403.6,1532.1 400.3,1531.8 397.0,1531.6 393.7,1531.4 390.4,1531.3 387.1,1531.2 383.8,1531.2 380.5,1531.2 377.2,1531.3 373.8,1531.4 370.5,1531.6 367.2,1531.9 363.9,1532.1 360.6,1532.5 357.3,1532.8 354.0,1533.2 350.7,1533.7 347.4,1534.2 344.1,1534.8 340.8,1535.3 337.5,1536.0 334.2,1536.7 330.9,1537.4 327.6,1538.2 324.3,1539.0 321.0,1539.8 317.7,1540.7 314.4,1541.7 311.1,1542.7 307.8,1543.7 304.5,1544.8 301.2,1546.0 297.9,1547.2 294.6,1548.4 291.3,1549.7 288.0,1551.1 284.7,1552.5 281.4,1554.0 278.1,1555.5 274.8,1557.1 271.5,1558.8 268.2,1560.5 264.9,1562.3 261.6,1564.2 258.3,1566.2 255.0,1568.3 251.7,1570.4 248.4,1572.7 245.1,1575.1 241.8,1577.6 238.5,1580.2 235.2,1582.9 231.9,1585.8 228.6,1588.9 225.3,1592.1 222.0,1595.5 218.7,1599.1 215.4,1602.9 212.1,1607.0 208.8,1611.2 205.5,1615.7 202.2,1620.5 198.8,1625.5 195.5,1630.9 192.2,1636.5 188.9,1642.4 185.6,1648.6 182.3,1655.1 179.0,1661.9 175.7,1669.1 172.4,1676.5 169.1,1684.2 165.8,1692.2 162.5,1700.5 159.2,1709.1 155.9,1717.9 152.6,1727.0 149.3,1736.3 146.0,1745.9 142.7,1755.8 139.4,1765.8 136.1,1776.1 132.8,1786.6 129.5,1797.4 126.2,1808.3 122.9,1819.5 119.6,1830.8 116.3,1842.4 113.0,1854.1" fill="#c0c0c0"/>
<polyline points="113.0,1723.8 116.3,1716.5 119.6,1709.4 122.9,1702.3 126.2,1695.3 129.5,1688.4 132.8,1681.6 136.1,1674.9 139.4,1668.3 142.7,1661.7 146.0,1655.3 149.3,1648.9 152.6,1642.6 155.9,1636.5 159.2,1630.4 162.5,1624.3 165.8,1618.4 169.1,1612.6 172.4,1606.8 175.7,1601.2 179.0,1595.6 182.3,1590.1 185.6,1584.7 188.9,1579.4 192.2,1574.2 195.5,1569.1 198.8,1564.0 202.2,1559.1 205.5,1554.2 208.8,1549.4 212.1,1544.7 215.4,1540.1 218.7,1535.6 222.0,1531.2 225.3,1526.8 228.6,1522.6 231.9,1518.4 235.2,1514.4 238.5,1510.4 241.8,1506.5 245.1,1502.7 248.4,1498.9 251.7,1495.3 255.0,1491.8 258.3,1488.3 261.6,1484.9 264.9,1481.7 268.2,1478.5 271.5,1475.4 274.8,1472.4 278.1,1469.4 281.4,1466.6 284.7,1463.8 288.0,1461.2 291.3,1458.6 294.6,1456.1 297.9,1453.7 301.2,1451.4 304.5,1449.2 307.8,1447.0 311.1,1445.0 314.4,1443.0 317.7,1441.2 321.0,1439.4 324.3,1437.7 327.6,1436.1 330.9,1434.6 334.2,1433.1 337.5,1431.8 340.8,1430.5 344.1,1429.4 347.4,1428.3 350.7,1427.3 354.0,1426.4 357.3,1425.6 360.6,1424.8 363.9,1424.2 367.2,1423.7 370.5,1423.2 373.8,1422.8 377.2,1422.5 380.5,1422.3 383.8,1422.2 387.1,1422.2 390.4,1422.3 393.7,1422.4 397.0,1422.7 400.3,1423.0 403.6,1423.4 406.9,1423.9 410.2,1424.5 413.5,1425.2 416.8,1426.0 420.1,1426.8 423.4,1427.8 426.7,1428.8 430.0,1430.0 433.3,1431.2 436.6,1432.5 439.9,1433.9 443.2,1435.3 446.5,1436.9 449.8,1438.6 453.1,1440.3 456.4,1442.1 459.7,1444.0 463.0,1446.0 466.3,1448.1 469.6,1450.3 472.9,1452.6 476.2,1455.0 479.5,1457.4 482.8,1459.9 486.1,1462.6 489.4,1465.3 492.7,1468.1 496.0,1470.9 499.3,1473.9 502.6,1477.0 505.9,1480.1 509.2,1483.4 512.5,1486.7 515.8,1490.1 519.1,1493.6 522.4,1497.2 525.7,1500.9 529.0,1504.7 532.3,1508.5 535.6,1512.5 538.9,1516.5 542.2,1520.6 545.5,1524.8 548.8,1529.1 552.2,1533.5 555.5,1538.0 558.8,1542.5 562.1,1547.2 565.4,1551.9 568.7,1556.7 572.0,1561.7 575.3,1566.7 578.6,1571.7 581.9,1576.9 585.2,1582.2 588.5,1587.5 591.8,1593.0 595.1,1598.5 598.4,1604.1 601.7,1609.8 605.0,1615.6 608.3,1621.5 611.6,1627.5 614.9,1633.5 618.2,1639.7 621.5,1645.9 624.8,1652.2 628.1,1658.7 631.4,1665.2 634.7,1671.7 638.0,1678.4" fill="none" stroke="#000" stroke-width="2.4"/>
</g>
<rect x="56.4" y="1182.7" width="606.20" height="485.90" fill="none" stroke="#adadad" stroke-width="1.3"/>
<path d="M49.4,1668.6H56.4M49.4,1547.1H56.4M49.4,1425.7H56.4M49.4,1304.2H56.4M49.4,1182.7H56.4M52.9,1607.9H56.4M52.9,1486.4H56.4M52.9,1364.9H56.4M52.9,1243.4H56.4M117.0,1668.6V1675.6M238.3,1668.6V1675.6M359.5,1668.6V1675.6M480.7,1668.6V1675.6M602.0,1668.6V1675.6M177.6,1668.6V1672.1M298.9,1668.6V1672.1M420.1,1668.6V1672.1M541.4,1668.6V1672.1M662.6,1668.6V1672.1" stroke="#adadad" stroke-width="1.3" fill="none"/>
<g font-family='"Liberation Sans", sans-serif' font-size="14.6" fill="#3a3a3a">
<text transform="translate(45.6,1673.9) scale(0.9,1)" text-anchor="end">0</text>
<text transform="translate(45.6,1552.4) scale(0.9,1)" text-anchor="end">2</text>
<text transform="translate(45.6,1431.0) scale(0.9,1)" text-anchor="end">4</text>
<text transform="translate(45.6,1309.5) scale(0.9,1)" text-anchor="end">6</text>
<text transform="translate(45.6,1188.0) scale(0.9,1)" text-anchor="end">8</text>
<text transform="translate(117.0,1692.0) scale(0.9,1)" text-anchor="middle">20</text>
<text transform="translate(238.3,1692.0) scale(0.9,1)" text-anchor="middle">25</text>
<text transform="translate(359.5,1692.0) scale(0.9,1)" text-anchor="middle">30</text>
<text transform="translate(480.7,1692.0) scale(0.9,1)" text-anchor="middle">35</text>
<text transform="translate(602.0,1692.0) scale(0.9,1)" text-anchor="middle">40</text>
</g>
<g font-family='"Liberation Sans", sans-serif' font-size="12" fill="#444">
<text x="64.0" y="1203.4" textLength="217.0" lengthAdjust="spacingAndGlyphs">Y = -33.94 + 2.44*LNC - 0.03919*LNC<tspan font-size="8.5" dy="-4">2</tspan></text>
<text x="64.0" y="1221.5" textLength="53.0" lengthAdjust="spacingAndGlyphs">R<tspan font-size="8.5" dy="-4">2</tspan><tspan dy="4">= 0.445</tspan></text>
<text x="64.0" y="1239.4" textLength="159.5" lengthAdjust="spacingAndGlyphs">F(2.12)=4.81, PValue=0.0293</text>
</g>
<text x="309.5" y="1714.8" font-family='"Liberation Sans", sans-serif' font-size="18.3" fill="#1a1a1a" textLength="99.0" lengthAdjust="spacingAndGlyphs">LNC (mg/g)</text>
<text transform="translate(20.2,1469.1) rotate(-90)" font-family='"Liberation Sans", sans-serif' font-size="18.3" fill="#1a1a1a" textLength="151.8" lengthAdjust="spacingAndGlyphs">Decay rate (year<tspan font-size="9.5" dy="-8">-1</tspan><tspan dy="8">)</tspan></text>
<text transform="translate(4.0,1186.5) scale(0.96,1)" font-family='"Liberation Serif", serif' font-weight="bold" font-size="28.5" fill="#111">c)</text>
<g fill="#000">
<circle cx="279.4" cy="1291.4" r="3.1"/>
<circle cx="431.4" cy="1340.0" r="3.1"/>
<circle cx="402.4" cy="1419.0" r="3.1"/>
<circle cx="152.2" cy="1473.6" r="3.1"/>
<circle cx="230.8" cy="1540.5" r="3.1"/>
<circle cx="234.8" cy="1583.0" r="3.1"/>
<circle cx="185.8" cy="1613.3" r="3.1"/>
<circle cx="179.3" cy="1619.4" r="3.1"/>
<circle cx="136.7" cy="1637.6" r="3.1"/>
<circle cx="208.3" cy="1643.7" r="3.1"/>
<circle cx="218.3" cy="1649.8" r="3.1"/>
<circle cx="152.2" cy="1655.9" r="3.1"/>
<circle cx="164.2" cy="1655.9" r="3.1"/>
<circle cx="614.1" cy="1601.2" r="3.1"/>
<circle cx="533.7" cy="1613.3" r="3.1"/>
</g>
<g font-family='"Liberation Serif", serif' font-size="14.8" fill="#111">
<text transform="translate(284.0,1295.5) scale(0.895,1)">AneNem</text>
<text transform="translate(437.0,1344.1) scale(0.895,1)">FicVer</text>
<text transform="translate(408.0,1423.1) scale(0.895,1)">AsaEur</text>
<text transform="translate(156.5,1477.7) scale(0.895,1)">AegPodL</text>
<text transform="translate(235.5,1544.6) scale(0.895,1)">MerPer</text>
<text transform="translate(240.0,1587.1) scale(0.895,1)">MaiBif</text>
<text transform="translate(190.5,1617.4) scale(0.895,1)">StaSyl</text>
<text transform="translate(184.0,1628.4) scale(0.895,1)">FraExc</text>
<text transform="translate(118.0,1630.9) scale(0.895,1)">CarBet</text>
<text transform="translate(212.0,1642.9) scale(0.895,1)">AcePse</text>
<text transform="translate(222.5,1654.9) scale(0.895,1)">CorAve</text>
<text transform="translate(145.0,1670.6) scale(0.895,1)">AegPodS</text>
<text transform="translate(169.0,1659.9) scale(0.895,1)">QueRob</text>
<text transform="translate(619.0,1605.3) scale(0.895,1)">UrtDio</text>
<text transform="translate(539.0,1617.4) scale(0.895,1)">AllPet</text>
</g>
</svg>
</body></html>
